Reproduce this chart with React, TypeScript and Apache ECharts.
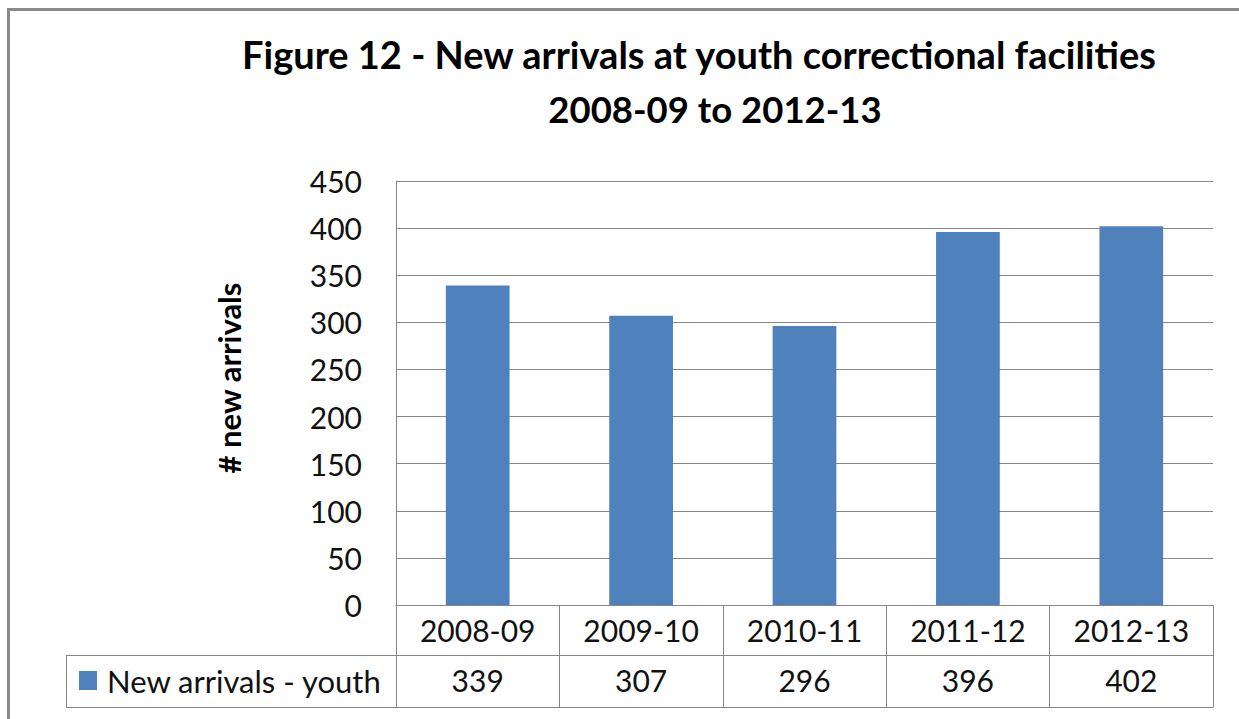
import React, { useEffect, useRef } from "react";
import * as echarts from "echarts";

const titleLine1 = "Figure 12 - New arrivals at youth correctional facilities";
const titleLine2 = "2008-09 to 2012-13";
const yAxisName = "# new arrivals";
const seriesName = "New arrivals - youth";
const categories = ["2008-09", "2009-10", "2010-11", "2011-12", "2012-13"];
const values = [339, 307, 296, 396, 402];

const FONT = "Lato";
const GRID_COLOR = "#868686";

export default function App() {
  const ref = useRef<HTMLDivElement>(null);
  useEffect(() => {
    if (!ref.current) return;
    const chart = echarts.init(ref.current, null, { renderer: "svg" });
    const catLabel = { fontFamily: FONT, fontSize: 30, color: "#111", lineHeight: 30, margin: 10 };
    chart.setOption({
      animation: false,
      backgroundColor: "#fff",
      textStyle: { fontFamily: FONT },
      title: [
        {
          text: titleLine1,
          left: 694,
          top: 30,
          textAlign: "center",
          textStyle: { fontFamily: FONT, fontWeight: "bold", fontSize: 38, color: "#000" },
        },
        {
          text: titleLine2,
          left: 710,
          top: 85,
          textAlign: "center",
          textStyle: { fontFamily: FONT, fontWeight: "bold", fontSize: 36.5, color: "#000" },
        },
      ],
      legend: {
        left: 79,
        top: 665,
        padding: 0,
        itemWidth: 18,
        itemHeight: 19,
        icon: "rect",
        data: [seriesName],
        textStyle: { fontFamily: FONT, fontSize: 31, color: "#111", padding: [0, 0, 0, 5] },
      },
      grid: { left: 396, top: 181, width: 817, height: 424, containLabel: false },
      xAxis: [
        {
          type: "category",
          data: categories,
          position: "bottom",
          axisLine: { show: true, lineStyle: { color: GRID_COLOR, width: 1 } },
          axisTick: { show: true, length: 102, lineStyle: { color: GRID_COLOR, width: 1 } },
          axisLabel: catLabel,
        },
        {
          type: "category",
          data: categories,
          position: "bottom",
          offset: 50,
          axisLine: { show: true, lineStyle: { color: GRID_COLOR, width: 1 } },
          axisTick: { show: false },
          axisLabel: { ...catLabel, formatter: (_v: string, i: number) => String(values[i]) },
        },
        {
          type: "category",
          data: categories,
          position: "bottom",
          offset: 102,
          axisLine: { show: true, lineStyle: { color: GRID_COLOR, width: 1 } },
          axisTick: { show: false },
          axisLabel: { show: false },
        },
      ],
      yAxis: {
        type: "value",
        min: 0,
        max: 450,
        interval: 50,
        axisLine: { show: true, lineStyle: { color: GRID_COLOR, width: 1 } },
        axisTick: { show: false },
        axisLabel: { fontFamily: FONT, fontSize: 30, color: "#111", margin: 34 },
        splitLine: { show: true, lineStyle: { color: GRID_COLOR, width: 1 } },
      },
      series: [
        {
          name: seriesName,
          type: "bar",
          xAxisIndex: 0,
          data: values,
          barWidth: "39%",
          itemStyle: { color: "#4F81BD" },
        },
      ],
      graphic: [
        {
          type: "rect",
          shape: { x: 8.5, y: 9.5, width: 1400, height: 900 },
          style: { fill: "none", stroke: "#8a8a8a", lineWidth: 3 },
          silent: true,
        },
        {
          type: "text",
          x: 229,
          y: 378,
          rotation: Math.PI / 2,
          style: {
            text: yAxisName,
            fontFamily: FONT,
            fontWeight: "bold",
            fontSize: 31,
            fill: "#000",
            align: "center",
            verticalAlign: "middle",
          },
        },
        {
          type: "line",
          shape: { x1: 66, y1: 655.5, x2: 396, y2: 655.5 },
          style: { stroke: GRID_COLOR, lineWidth: 1 },
        },
        {
          type: "line",
          shape: { x1: 66, y1: 707.5, x2: 396, y2: 707.5 },
          style: { stroke: GRID_COLOR, lineWidth: 1 },
        },
        {
          type: "line",
          shape: { x1: 66.5, y1: 655.5, x2: 66.5, y2: 707.5 },
          style: { stroke: GRID_COLOR, lineWidth: 1 },
        },
      ],
    });
    return () => chart.dispose();
  }, []);
  return (
    <div
      ref={ref}
      style={{ position: "fixed", left: 0, top: 0, width: 1239, height: 719 }}
    />
  );
}
